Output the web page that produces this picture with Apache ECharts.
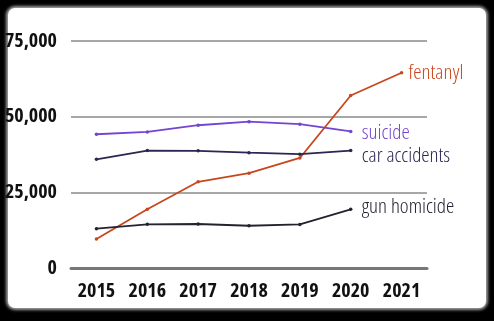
<!DOCTYPE html>
<html>
<head>
<meta charset="utf-8">
<script src="https://cdn.jsdelivr.net/npm/echarts@6/dist/echarts.min.js"></script>
<style>
  html, body { margin: 0; padding: 0; background: #000; width: 494px; height: 321px; overflow: hidden; }
  #panel {
    position: absolute; left: 8px; top: 8px; width: 478px; height: 300px;
    background: #fff; border-radius: 7px;
    box-shadow: 0 0 3px 2px rgba(190,190,190,0.85);
  }
  #chart { position: absolute; left: 0; top: 0; width: 494px; height: 321px; }
</style>
</head>
<body>
<div id="panel"></div>
<div id="chart"></div>
<script>
// Annual US deaths by cause
const years = ['2015', '2016', '2017', '2018', '2019', '2020', '2021'];
const fentanyl = [9580, 19410, 28470, 31340, 36360, 57000, 64500];
const suicide = [44190, 44970, 47170, 48340, 47510, 45140];
const carAccidents = [35900, 38800, 38700, 38100, 37600, 38800];
const gunHomicide = [12980, 14420, 14540, 13960, 14410, 19380];
const yTicks = [0, 25000, 50000, 75000];

const labelFont = '"Open Sans", sans-serif';

function lineSeries(name, data, color, labelOffset) {
  return {
    name: name,
    type: 'line',
    data: data,
    symbol: 'circle',
    symbolSize: 3.5,
    lineStyle: { color: color, width: 1.8 },
    itemStyle: { color: color },
    endLabel: {
      show: true,
      formatter: name,
      color: color,
      fontFamily: labelFont,
      fontStyle: 'condensed',
      fontWeight: 300,
      fontSize: 21,
      distance: 10,
      offset: labelOffset
    },
    animation: false
  };
}

const chart = echarts.init(document.getElementById('chart'), null, { renderer: 'canvas' });
chart.setOption({
  backgroundColor: 'transparent',
  animation: false,
  grid: { left: 71, right: 67, top: 41, bottom: 53 },
  xAxis: {
    type: 'category',
    data: years,
    boundaryGap: true,
    axisLine: { show: true, lineStyle: { color: '#777', width: 3 } },
    axisTick: { show: false },
    axisLabel: {
      interval: 0,
      color: '#111', fontFamily: labelFont, fontStyle: 'condensed', fontWeight: 'bold', fontSize: 20, margin: 13
    }
  },
  yAxis: {
    type: 'value',
    min: yTicks[0],
    max: yTicks[yTicks.length - 1],
    interval: yTicks[1] - yTicks[0],
    axisLine: { show: false },
    axisTick: { show: false },
    splitLine: { lineStyle: { color: '#8a8a8a', width: 1.5 } },
    axisLabel: {
      color: '#111', fontFamily: labelFont, fontStyle: 'condensed', fontWeight: 'bold', fontSize: 20, margin: 14,
      formatter: v => v.toLocaleString('en-US')
    }
  },
  series: [
    lineSeries('fentanyl', fentanyl, '#c8461c', [-3, 0]),
    lineSeries('suicide', suicide, '#7444d2', [1, 2]),
    lineSeries('car accidents', carAccidents, '#2b2752', [1, 5]),
    lineSeries('gun homicide', gunHomicide, '#23222e', [1, -2])
  ]
});
</script>
</body>
</html>
